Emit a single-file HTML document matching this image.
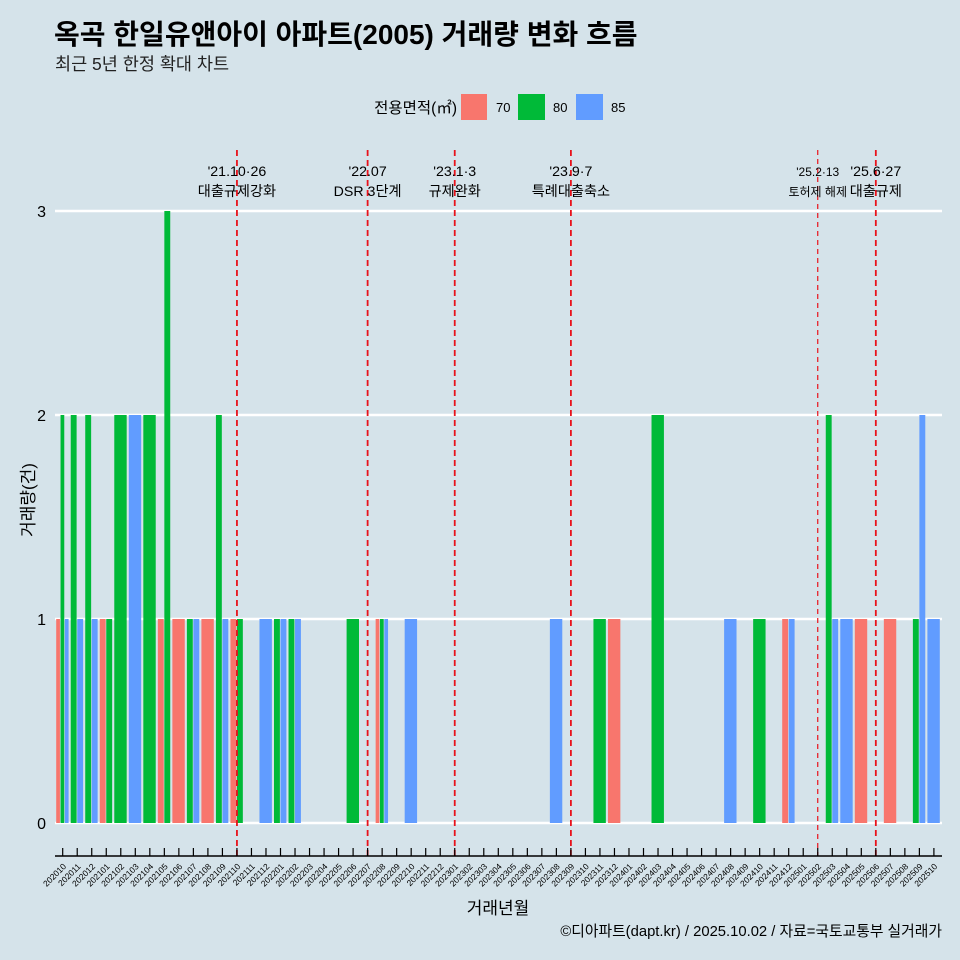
<!DOCTYPE html>
<html><head><meta charset="utf-8"><style>
body{margin:0;background:#d5e3ea;}
svg{display:block;font-family:"Liberation Sans","Noto Sans CJK KR",sans-serif;}
</style></head><body>
<svg id="c" width="960" height="960" xmlns="http://www.w3.org/2000/svg">
<rect width="960" height="960" fill="#d5e3ea"/>
<text x="54" y="44" font-size="28" font-weight="bold" fill="#000">옥곡 한일유앤아이 아파트(2005) 거래량 변화 흐름</text>
<text x="55" y="70" font-size="17.5" fill="#222">최근 5년 한정 확대 차트</text>
<g>
<text x="457" y="113" font-size="15.5" text-anchor="end">전용면적(㎡)</text>
<rect x="461" y="94" width="26" height="26" fill="#f8766d"/>
<text x="496" y="112" font-size="13">70</text>
<rect x="518" y="94" width="27" height="26" fill="#00ba38"/>
<text x="553" y="112" font-size="13">80</text>
<rect x="576" y="94" width="27" height="26" fill="#619cff"/>
<text x="611" y="112" font-size="13">85</text>
</g>
<g id="grid"></g><g id="bars"></g><g id="events"></g><g id="axes"></g>
<text x="498" y="914" font-size="17" text-anchor="middle">거래년월</text>
<text transform="translate(34,500) rotate(-90)" font-size="17" text-anchor="middle">거래량(건)</text>
<text x="942" y="936" font-size="14.8" text-anchor="end">©디아파트(dapt.kr) / 2025.10.02 / 자료=국토교통부 실거래가</text>
</svg>
<script>
const months=[];for(let y=2020,m=10;!(y===2025&&m===11);){months.push(''+y+(m<10?'0':'')+m);m++;if(m>12){m=1;y++;}}
const areas=['70','80','85'];
const colors=['#f8766d','#00ba38','#619cff'];
const s70={'202010':1,'202101':1,'202105':1,'202106':1,'202108':1,'202110':1,'202208':1,'202312':1,'202412':1,'202505':1,'202507':1};
const s80={'202010':2,'202011':2,'202012':2,'202101':1,'202102':2,'202104':2,'202105':3,'202107':1,'202109':2,'202110':1,'202201':1,'202202':1,'202206':1,'202208':1,'202311':1,'202403':2,'202410':1,'202503':2,'202509':1};
const s85={'202010':1,'202011':1,'202012':1,'202103':2,'202107':1,'202109':1,'202112':1,'202201':1,'202202':1,'202208':1,'202210':1,'202308':1,'202408':1,'202412':1,'202503':1,'202504':1,'202509':2,'202510':1};
const series=[s70,s80,s85];
const yTicks=[0,1,2,3];
const evMonths=['202110','202207','202301','202309','202502','202506'];
const evL1=["'21.10·26","'22.07","'23.1·3","'23.9·7","'25.2·13","'25.6·27"];
const evL2=["대출규제강화","DSR 3단계","규제완화","특례대출축소","토허제 해제","대출규제"];
const x=i=>62.7+i*14.52, y=v=>823-v*204;
const NS='http://www.w3.org/2000/svg';
function mk(p,t,a){const e=document.createElementNS(NS,t);for(const k in a)e.setAttribute(k,a[k]);document.getElementById(p).appendChild(e);return e;}
yTicks.forEach(v=>{
 let l=mk('grid','line',{x1:55,x2:942,y1:y(v),y2:y(v),stroke:'#fff','stroke-width':2.5});
 
 
 let t=mk('axes','text',{x:46,y:y(v)+6,'font-size':16,'text-anchor':'end'});t.textContent=v;
 
 
});
const bw=13;
months.forEach((m,i)=>{
 const present=[];series.forEach((s,k)=>{if(s[m])present.push(k);});
 const w=bw/Math.max(present.length,1);
 present.forEach((k,j)=>{
  const v=series[k][m];
  let r=mk('bars','rect',{x:x(i)-bw/2+j*w,y:y(v),width:w-0.6,height:y(0)-y(v),fill:colors[k]});
  
  
 });
 let tk=mk('axes','line',{x1:x(i),x2:x(i),y1:848,y2:856,stroke:'#000','stroke-width':1.2});
 
 
 let t=mk('axes','text',{'font-size':8.5,'text-anchor':'end',transform:`translate(${x(i)+4},867) rotate(-45)`});t.textContent=m;
 
 
});
let ax=mk('axes','line',{x1:55,x2:942,y1:856,y2:856,stroke:'#000','stroke-width':1.5});


evMonths.forEach((m,k)=>{
 const i=months.indexOf(m);
 let l=mk('events','line',{x1:x(i),x2:x(i),y1:150,y2:856,stroke:'#e8121b','stroke-width':k==4?1.2:1.8,'stroke-dasharray':k==4?'5,4':'6,4'});
 
 
 const fs=k==4?12:14.2;
 let t1=mk('events','text',{x:x(i),y:176,'font-size':fs,'text-anchor':'middle'});t1.textContent=evL1[k];
 
 
 let t2=mk('events','text',{x:x(i),y:196,'font-size':fs,'text-anchor':'middle'});t2.textContent=evL2[k];
 
 
});
</script>
</body></html>
